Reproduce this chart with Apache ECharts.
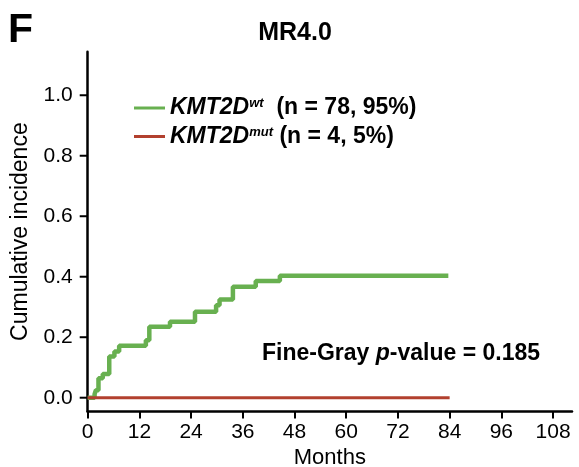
<!DOCTYPE html>
<html>
<head>
<meta charset="utf-8">
<script src="https://cdn.jsdelivr.net/npm/echarts@6/dist/echarts.min.js"></script>
<style>
  html, body { margin: 0; padding: 0; background: #fff; }
  #chart { width: 579px; height: 467px; }
</style>
</head>
<body>
<div id="chart"></div>
<script>
  // 数据：月份 / 累积发生率（阶梯曲线的跳变点）
  var wtMonths = [0, 1.6, 1.9, 2.5, 3.5, 5.0, 6.2, 7.3, 13.5, 14.3, 19.1, 24.9, 29.8, 30.6, 33.7, 39.0, 44.6, 83.7];
  var wtValues = [0, 0.012, 0.025, 0.064, 0.078, 0.136, 0.153, 0.172, 0.19, 0.235, 0.251, 0.284, 0.306, 0.325, 0.367, 0.386, 0.403, 0.403];
  var mutMonths = [0, 84];
  var mutValues = [0, 0];
  var xTicks = [0, 12, 24, 36, 48, 60, 72, 84, 96, 108];
  var yTicks = [0, 0.2, 0.4, 0.6, 0.8, 1.0];

  function pairs(xs, ys) {
    return xs.map(function (x, i) { return [x, ys[i]]; });
  }

  var FONT = '"Liberation Sans", Arial, sans-serif';
  var myChart = echarts.init(document.getElementById('chart'));

  var option = {
    backgroundColor: '#fff',
    animation: false,
    textStyle: { fontFamily: FONT },
    grid: { left: 87.7, right: 7, top: 51.7, bottom: 55.5, containLabel: false, outerBoundsMode: 'none' },
    legend: {
      orient: 'vertical',
      left: 129,
      top: 89,
      itemWidth: 31,
      itemHeight: 3,
      itemGap: 3,
      icon: 'rect',
      selectedMode: false,
      data: ['wt', 'mut'],
      formatter: function (name) {
        if (name === 'wt') return '{i|KMT2D}{s|wt}{n|  (n = 78, 95%)}';
        return '{i|KMT2D}{s|mut}{n| (n = 4, 5%)}';
      },
      textStyle: {
        color: '#000',
        rich: {
          i: { fontFamily: FONT, fontSize: 23, fontWeight: 'bold', fontStyle: 'italic', lineHeight: 28, color: '#000' },
          s: { fontFamily: FONT, fontSize: 13, fontWeight: 'bold', fontStyle: 'italic', lineHeight: 28, verticalAlign: 'top', padding: [3, 0, 0, 0], color: '#000' },
          n: { fontFamily: FONT, fontSize: 23, fontWeight: 'bold', lineHeight: 28, color: '#000' }
        }
      }
    },
    xAxis: {
      type: 'value',
      min: 0,
      max: 112.4,
      interval: 12,
      name: 'Months',
      nameLocation: 'middle',
      nameGap: 33,
      nameTextStyle: { fontSize: 22, color: '#000', fontFamily: FONT },
      splitLine: { show: false },
      axisLine: { show: true, onZero: false, lineStyle: { color: '#000', width: 2.5 } },
      axisTick: { show: true, length: 7, lineStyle: { color: '#000', width: 2 } },
      axisLabel: { showMaxLabel: false, fontSize: 21, color: '#000', margin: 10, fontFamily: FONT }
    },
    yAxis: {
      type: 'value',
      min: -0.0456,
      max: 1.144,
      name: 'Cumulative incidence',
      nameLocation: 'middle',
      nameGap: 49,
      nameTextStyle: { fontSize: 23, color: '#000', fontFamily: FONT },
      splitLine: { show: false },
      axisLine: { show: true, onZero: false, lineStyle: { color: '#000', width: 2.5 } },
      axisTick: { show: false },
      axisLabel: {
        customValues: yTicks, fontSize: 21, color: '#000', margin: 15, fontFamily: FONT,
        formatter: function (v) { return v.toFixed(1); }
      }
    },
    series: [
      {
        // y 轴刻度线
        type: 'custom',
        silent: true,
        data: yTicks.map(function (v) { return [0, v]; }),
        renderItem: function (params, api) {
          var p = api.coord([api.value(0), api.value(1)]);
          return {
            type: 'line',
            shape: { x1: p[0] - 8, y1: p[1], x2: p[0], y2: p[1] },
            style: { stroke: '#000', lineWidth: 2 }
          };
        },
        clip: false,
        z: 1
      },
      {
        name: 'wt',
        type: 'line',
        step: 'end',
        showSymbol: false,
        data: pairs(wtMonths, wtValues),
        itemStyle: { color: '#68b050' },
        lineStyle: { color: '#68b050', width: 4.5 },
        z: 2
      },
      {
        name: 'mut',
        type: 'line',
        showSymbol: false,
        data: pairs(mutMonths, mutValues),
        itemStyle: { color: '#b2402e' },
        lineStyle: { color: '#b2402e', width: 3 },
        z: 3
      }
    ],
    graphic: [
      {
        type: 'text', left: 8, top: 10,
        style: { text: 'F', font: 'bold 41px ' + FONT, fill: '#000' }
      },
      {
        type: 'text', x: 295, y: 33,
        style: { text: 'MR4.0', font: 'bold 25px ' + FONT, fill: '#000', align: 'center', verticalAlign: 'middle' }
      },
      {
        type: 'text', x: 262, y: 354,
        style: {
          text: '{b|Fine-Gray }{p|p}{b|-value = 0.185}',
          verticalAlign: 'middle',
          rich: {
            b: { font: 'bold 23px ' + FONT, fill: '#000' },
            p: { font: 'italic bold 23px ' + FONT, fill: '#000' }
          }
        }
      }
    ]
  };

  myChart.setOption(option);
</script>
</body>
</html>
